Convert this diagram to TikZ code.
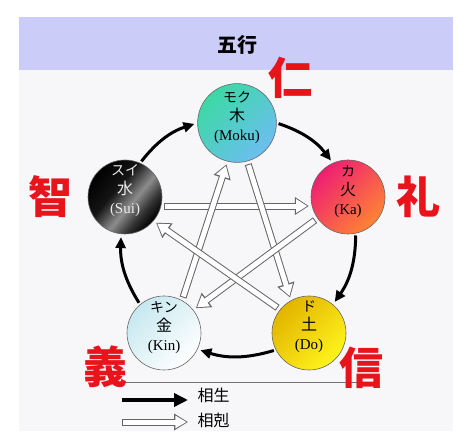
\documentclass[tikz,border=0pt]{standalone}
\usepackage{fontspec}
\setmainfont{Liberation Serif}
\newfontfamily\jp{Noto Sans CJK JP}
\usetikzlibrary{arrows.meta}

\definecolor{headband}{HTML}{CCCCF8}
\definecolor{panelbg}{HTML}{F7F7FA}
\definecolor{markred}{HTML}{E8141C}
\definecolor{mokuA}{HTML}{3CD9A4}
\definecolor{mokuB}{HTML}{6CBEF0}
\definecolor{kaA}{HTML}{EE1E72}
\definecolor{kaB}{HTML}{FF8434}
\definecolor{doA}{HTML}{E2B400}
\definecolor{doB}{HTML}{FFF41C}
\definecolor{kinA}{HTML}{C6E8F0}
\pgfdeclarehorizontalshading{suigloss}{100bp}{color(0bp)=(black); color(25bp)=(black); color(42bp)=(black!92); color(56bp)=(black!45); color(66bp)=(black!80); color(75bp)=(black); color(100bp)=(black)}

\newcommand{\kana}[1]{{\jp\fontsize{14}{14}\selectfont #1}}
\newcommand{\kanji}[1]{{\jp\fontsize{16}{16}\selectfont #1}}

\begin{document}
\begin{tikzpicture}[x=1pt,y=1pt,
    element/.style={circle, draw=black!60, line width=0.6pt, minimum size=74pt,
        inner sep=0pt, align=center, text depth=15pt, font=\fontsize{15}{19}\selectfont},
    sheng/.style={line width=3pt, -{Triangle[length=11pt,width=10pt]},
        shorten >=3pt, shorten <=2pt},
    keout/.style={line width=7pt, draw=black!60, -{Triangle[length=14pt,width=17pt]},
        shorten >=3pt, shorten <=3pt},
    kein/.style={line width=5pt, draw=white, -{Triangle[length=11pt,width=13pt]},
        shorten >=4.6pt, shorten <=4pt},
    virtue/.style={text=markred, font=\jp\bfseries\fontsize{44}{44}\selectfont},
]
    \useasboundingbox (0,0) rectangle (474,434);

    % Panel
    \fill[panelbg] (19,3) rectangle (453,364);
    \fill[headband] (19,364) rectangle (453,417);
    \node (title) at (237,389) {\jp\bfseries\fontsize{20}{20}\selectfont 五行};

    % Elements
    \node[element, top color=mokuA, bottom color=mokuB, shading angle=45] (moku) at (237,311)
        {\kana{モク}\\\kanji{木}\\(Moku)};
    \node[element, top color=kaA, bottom color=kaB, shading angle=45] (ka) at (348,237)
        {\kana{カ}\\\kanji{火}\\(Ka)};
    \node[element, top color=doA, bottom color=doB, shading angle=45] (do) at (309,101)
        {\kana{ド}\\\kanji{土}\\(Do)};
    \node[element, top color=kinA, bottom color=white, shading angle=45] (kin) at (164,101)
        {\kana{キン}\\\kanji{金}\\(Kin)};
    \node[element, shading=suigloss, shading angle=-40, text=black!8] (sui) at (125,237)
        {\kana{スイ}\\\kanji{水}\\(Sui)};

    % Sosho
    \draw[sheng] (moku.0) to[bend left=17] (ka.114);
    \draw[sheng] (ka.-78) to[bend left=17] (do.50);
    \draw[sheng] (do.207) to[bend left=17] (kin.-26);
    \draw[sheng] (kin.130) to[bend left=17] (sui.-96);
    \draw[sheng] (sui.66) to[bend left=17] (moku.180);

    % Sokoku
    \draw[keout] (sui.-14) -- (ka.194);
    \draw[kein] (sui.-14) -- (ka.194);
    \draw[keout] (kin.61) -- (moku.-104);
    \draw[kein] (kin.61) -- (moku.-104);
    \draw[keout] (moku.-75) -- (do.119);
    \draw[kein] (moku.-75) -- (do.119);
    \draw[keout] (ka.215) -- (kin.38);
    \draw[kein] (ka.215) -- (kin.38);
    \draw[keout] (do.141) -- (sui.-40);
    \draw[kein] (do.141) -- (sui.-40);

    % Legend
    \draw[black!55, line width=0.8pt] (123,52) -- (358,52);
    \coordinate (shengA) at (122,34);
    \coordinate (shengB) at (188,34);
    \coordinate (keA) at (122,12);
    \coordinate (keB) at (188,12);
    \draw[line width=4.5pt, -{Triangle[length=14pt,width=13pt]}] (shengA) -- (shengB);
    \draw[line width=7pt, draw=black!60, -{Triangle[length=14pt,width=16pt]}] (keA) -- (keB);
    \draw[line width=5pt, draw=white, -{Triangle[length=11pt,width=12pt]},
        shorten >=1.6pt, shorten <=1pt] (keA) -- (keB);
    \node[anchor=west] (shenglabel) at (194,39) {\jp\fontsize{16}{16}\selectfont 相生};
    \node[anchor=west] (kelabel) at (194,14) {\jp\fontsize{16}{16}\selectfont 相剋};

    % Virtues
    \node[virtue] (jin) at (290,356) {仁};
    \node[virtue] (rei) at (418,237) {礼};
    \node[virtue] (chi) at (50,237) {智};
    \node[virtue] (gi) at (105,67) {義};
    \node[virtue] (shin) at (361,66) {信};
\end{tikzpicture}
\end{document}
